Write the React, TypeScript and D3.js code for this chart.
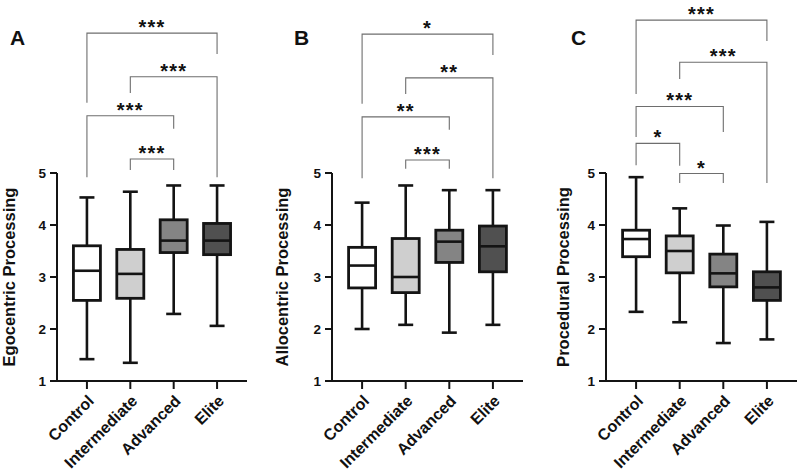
import React from "react";
import * as d3 from "d3";

const categories = ["Control", "Intermediate", "Advanced", "Elite"];
const fills = ["#ffffff", "#cfcfcf", "#848484", "#505050"];
const yTicks = [1, 2, 3, 4, 5];

// [min, q1, median, q3, max] per group
const egocentric = [
  [1.42, 2.55, 3.12, 3.6, 4.53],
  [1.35, 2.59, 3.06, 3.53, 4.64],
  [2.29, 3.47, 3.7, 4.1, 4.76],
  [2.06, 3.43, 3.7, 4.03, 4.76],
];
const allocentric = [
  [2.0, 2.79, 3.22, 3.57, 4.43],
  [2.08, 2.7, 3.0, 3.74, 4.76],
  [1.93, 3.28, 3.68, 3.9, 4.67],
  [2.08, 3.1, 3.59, 3.98, 4.67],
];
const procedural = [
  [2.33, 3.39, 3.73, 3.9, 4.92],
  [2.13, 3.08, 3.5, 3.79, 4.32],
  [1.73, 2.81, 3.07, 3.44, 3.99],
  [1.8, 2.55, 2.8, 3.1, 4.06],
];

// comparisons: [groupA, groupB, label, bracket level, left leg end, right leg end] (data units)
const egoSig: [number, number, string, number, number, number][] = [
  [0, 3, "***", 7.69, 6.35, 7.29],
  [1, 3, "***", 6.85, 6.54, 4.92],
  [0, 2, "***", 6.1, 4.92, 5.85],
  [1, 2, "***", 5.27, 5.06, 5.06],
];
const alloSig: [number, number, string, number, number, number][] = [
  [0, 3, "*", 7.67, 6.33, 7.27],
  [1, 3, "**", 6.83, 6.52, 4.9],
  [0, 2, "**", 6.08, 4.9, 5.83],
  [1, 2, "***", 5.25, 5.08, 5.08],
];
const procSig: [number, number, string, number, number, number][] = [
  [0, 3, "***", 7.94, 6.52, 7.54],
  [1, 3, "***", 7.13, 6.81, 4.81],
  [0, 2, "***", 6.28, 5.69, 5.79],
  [0, 1, "*", 5.57, 5.15, 5.14],
  [1, 2, "*", 4.99, 4.81, 4.81],
];

const FONT = "'Liberation Sans', Arial, Helvetica, sans-serif";

type PanelProps = {
  letter: string;
  label: string;
  data: number[][];
  sig: [number, number, string, number, number, number][];
  x0: number;
  x1: number;
  labelX: number;
  letterX: number;
};

function Panel({ letter, label, data, sig, x0, x1, labelX, letterX }: PanelProps) {
  const y = d3.scaleLinear().domain([1, 5]).range([381, 173]);
  const x = d3.scalePoint<string>().domain(categories).range([x0, x1]).padding(0.69);
  const boxW = 27;
  const capW = 15;
  const ink = "#141414";
  return (
    <g>
      <text x={letterX} y={45} fontSize={21} fontWeight="bold" fontFamily={FONT} fill="#111">
        {letter}
      </text>
      {/* y axis */}
      <line x1={x0} x2={x0} y1={y(1) + 1} y2={y(5)} stroke={ink} strokeWidth={2} />
      {yTicks.map((t) => (
        <g key={t}>
          <line x1={x0 - 7} x2={x0} y1={y(t)} y2={y(t)} stroke={ink} strokeWidth={2} />
          <text
            x={x0 - 11}
            y={y(t)}
            dy="0.36em"
            textAnchor="end"
            fontSize={13.5}
            fontWeight="bold"
            fontFamily={FONT}
            fill="#111"
          >
            {t}
          </text>
        </g>
      ))}
      {/* x axis */}
      <line x1={x0 - 1} x2={x1} y1={y(1)} y2={y(1)} stroke={ink} strokeWidth={2} />
      {categories.map((c) => (
        <g key={c}>
          <line x1={x(c)!} x2={x(c)!} y1={y(1)} y2={y(1) + 8} stroke={ink} strokeWidth={2} />
          <text
            transform={`translate(${x(c)! + 4},${y(1) + 17}) rotate(-45)`}
            textAnchor="end"
            dy="0.35em"
            fontSize={16}
            fontWeight="bold"
            fontFamily={FONT}
            fill="#111"
          >
            {c}
          </text>
        </g>
      ))}
      <text
        transform={`translate(${labelX},${y(3)}) rotate(-90)`}
        textAnchor="middle"
        fontSize={16.5}
        fontWeight="bold"
        fontFamily={FONT}
        fill="#111"
      >
        {label}
      </text>
      {/* boxes */}
      {data.map((d, i) => {
        const cx = x(categories[i])!;
        const [mn, q1, md, q3, mx] = d;
        return (
          <g key={i}>
            <line x1={cx} x2={cx} y1={y(mx)} y2={y(q3)} stroke={ink} strokeWidth={2.6} />
            <line x1={cx} x2={cx} y1={y(q1)} y2={y(mn)} stroke={ink} strokeWidth={2.6} />
            <line x1={cx - capW / 2} x2={cx + capW / 2} y1={y(mx)} y2={y(mx)} stroke={ink} strokeWidth={2.6} />
            <line x1={cx - capW / 2} x2={cx + capW / 2} y1={y(mn)} y2={y(mn)} stroke={ink} strokeWidth={2.6} />
            <rect
              x={cx - boxW / 2}
              y={y(q3)}
              width={boxW}
              height={y(q1) - y(q3)}
              fill={fills[i]}
              stroke={ink}
              strokeWidth={2.8}
            />
            <line x1={cx - boxW / 2} x2={cx + boxW / 2} y1={y(md)} y2={y(md)} stroke={ink} strokeWidth={2.6} />
          </g>
        );
      })}
      {/* significance brackets */}
      {sig.map(([a, b, lab, lvl, le, re], k) => {
        const xa = x(categories[a])!;
        const xb = x(categories[b])!;
        const path = `M${xa},${y(le)}V${y(lvl)}H${xb}V${y(re)}`;
        return (
          <g key={k}>
            <path d={path} fill="none" stroke="#6e6e6e" strokeWidth={1.1} />
            <text
              x={(xa + xb) / 2}
              y={y(lvl) + 1}
              textAnchor="middle"
              fontSize={20}
              letterSpacing={1.2}
              fontWeight="bold"
              fontFamily={FONT}
              fill="#111"
            >
              {lab}
            </text>
          </g>
        );
      })}
    </g>
  );
}

export default function App() {
  return (
    <svg
      width={798}
      height={473}
      style={{ position: "absolute", left: 0, top: 0, background: "#fff" }}
    >
      <rect width={798} height={473} fill="#fff" />
      <Panel letter="A" label="Egocentric Processing" data={egocentric} sig={egoSig} x0={57} x1={247} labelX={15} letterX={10} />
      <Panel letter="B" label="Allocentric Processing" data={allocentric} sig={alloSig} x0={332} x1={523} labelX={288} letterX={294} />
      <Panel letter="C" label="Procedural Processing" data={procedural} sig={procSig} x0={606} x1={797} labelX={569} letterX={571} />
    </svg>
  );
}
